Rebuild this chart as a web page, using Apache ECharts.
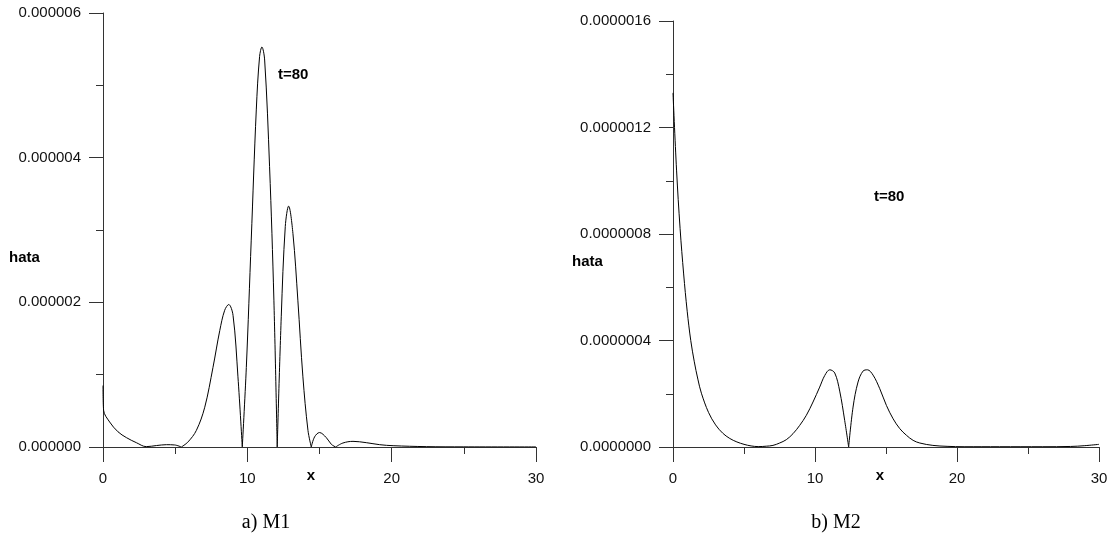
<!DOCTYPE html>
<html>
<head>
<meta charset="utf-8">
<script src="https://cdn.jsdelivr.net/npm/echarts@6/dist/echarts.min.js"></script>
<style>
  html, body { margin: 0; padding: 0; background: #fff; }
  #chart { width: 1114px; height: 554px; }
</style>
</head>
<body>
<div id="chart"></div>
<script>
// Error profile of method M1 at t=80
const m1X = [0, 0.04, 0.46, 1.04, 1.62, 2.31, 3.0, 3.7, 4.39, 4.97, 5.43, 5.89, 6.47, 7.05, 7.62, 8.09, 8.43, 8.71, 9.01, 9.35, 9.65,
             9.93, 10.27, 10.62, 10.85, 11.01, 11.2, 11.54, 11.84, 12.07, 12.35, 12.63, 12.86, 13.16, 13.5, 13.85, 14.2, 14.43,
             14.66, 15.0, 15.47, 15.82, 16.12, 16.62, 17.32, 18.24, 19.17, 20.1, 22.4, 25, 30];
const m1Y = [8.5e-7, 5.1e-7, 3.46e-7, 2.1e-7, 1.3e-7, 6e-8, 5e-9, 2e-8, 3.2e-8, 2.8e-8, 0, 7e-8, 2.3e-7, 5.5e-7, 1.1e-6, 1.61e-6, 1.89e-6, 1.97e-6, 1.82e-6, 9.7e-7, 0,
             1.1e-6, 2.86e-6, 4.66e-6, 5.4e-6, 5.53e-6, 5.35e-6, 3.88e-6, 2.03e-6, 0, 1.8e-6, 3.05e-6, 3.33e-6, 2.95e-6, 2.03e-6, 9.7e-7, 2.3e-7, 0,
             1.4e-7, 2.0e-7, 1.3e-7, 3.7e-8, 0, 5.5e-8, 7.8e-8, 6e-8, 3.2e-8, 1.8e-8, 5e-9, 2e-9, 1e-9];

// Error profile of method M2 at t=80
const m2X = [0, 0.25, 0.5, 0.75, 1.0, 1.25, 1.5, 1.75, 2.0, 2.5, 3.0, 3.5, 4.0, 4.5, 5.0, 5.5, 6.0, 6.57, 7.04, 7.51, 7.98, 8.45, 8.92,
             9.39, 9.86, 10.33, 10.69, 11.04, 11.39, 11.74, 12.09, 12.37, 12.68, 13.03, 13.38, 13.69, 14.09, 14.56, 15.03, 15.5,
             15.97, 16.44, 16.91, 17.38, 18.3, 19.3, 20.5, 23, 26, 28, 29, 30];
const m2Y = [1.33e-6, 1.04e-6, 8.2e-7, 6.5e-7, 5.1e-7, 4.0e-7, 3.2e-7, 2.55e-7, 2.02e-7, 1.3e-7, 8.3e-8, 5.2e-8, 3.2e-8, 1.9e-8, 1.0e-8, 4e-9, 1.5e-9,
             3e-9, 6e-9, 1.5e-8, 2.75e-8, 5e-8, 8.1e-8, 1.19e-7, 1.69e-7, 2.25e-7, 2.69e-7, 2.9e-7, 2.78e-7, 2.1e-7, 1.0e-7, 0, 1.5e-7, 2.44e-7,
             2.85e-7, 2.9e-7, 2.7e-7, 2.19e-7, 1.56e-7, 1.06e-7, 6.9e-8, 4.4e-8, 2.5e-8, 1.5e-8, 6e-9, 2.5e-9, 1e-9, 1e-9, 1e-9, 2e-9, 5e-9, 1e-8];

const xTicks = { min: 0, max: 30, interval: 10 };
const m1Ticks = { min: 0, max: 6e-6, interval: 2e-6, digits: 6 };
const m2Ticks = { min: 0, max: 1.6e-6, interval: 4e-7, digits: 7 };

const FONT = '"Liberation Sans", Arial, sans-serif';
const AXIS_COLOR = '#333';

// Split a curve at its interior zeros so each lobe is smoothed on its own
// and the zero crossings stay sharp cusps.
function lobes(xs, ys) {
  const parts = [];
  let cur = [];
  for (let i = 0; i < xs.length; i++) {
    cur.push([xs[i], ys[i]]);
    if (ys[i] === 0 && i > 0 && i < xs.length - 1) {
      parts.push(cur);
      cur = [[xs[i], ys[i]]];
    }
  }
  if (cur.length > 1) parts.push(cur);
  return parts;
}

function xAxisCfg(gridIndex) {
  return {
    type: 'value', gridIndex,
    min: xTicks.min, max: xTicks.max, interval: xTicks.interval,
    axisLine: { show: true, onZero: false, lineStyle: { color: AXIS_COLOR, width: 1 } },
    axisTick: { show: true, length: 15, lineStyle: { color: AXIS_COLOR } },
    minorTick: { show: true, splitNumber: 2, length: 7, lineStyle: { color: AXIS_COLOR } },
    splitLine: { show: false },
    axisLabel: { margin: 24, color: '#111', fontFamily: FONT, fontSize: 15 }
  };
}

function yAxisCfg(gridIndex, t) {
  return {
    type: 'value', gridIndex,
    min: t.min, max: t.max, interval: t.interval,
    axisLine: { show: true, lineStyle: { color: AXIS_COLOR, width: 1 } },
    axisTick: { show: true, length: 14, lineStyle: { color: AXIS_COLOR } },
    minorTick: { show: true, splitNumber: 2, length: 7, lineStyle: { color: AXIS_COLOR } },
    splitLine: { show: false },
    axisLabel: { margin: 22, color: '#111', fontFamily: FONT, fontSize: 15,
                 formatter: v => v.toFixed(t.digits) }
  };
}

function curveSeries(xs, ys, idx) {
  return lobes(xs, ys).map(part => ({
    type: 'line', xAxisIndex: idx, yAxisIndex: idx,
    data: part, smooth: 0.35, showSymbol: false, symbol: 'none',
    lineStyle: { color: '#000', width: 1 }, silent: true, animation: false
  }));
}

function label(text, x, y, opts) {
  return {
    type: 'text', x, y,
    style: Object.assign({ text, fill: '#000', font: 'bold 15px ' + FONT, textVerticalAlign: 'middle' }, opts || {})
  };
}

const chart = echarts.init(document.getElementById('chart'), null, { renderer: 'canvas' });
chart.setOption({
  backgroundColor: '#fff',
  animation: false,
  grid: [
    { left: 103, top: 13, width: 433, height: 434 },
    { left: 673, top: 21, width: 426, height: 426 }
  ],
  xAxis: [xAxisCfg(0), xAxisCfg(1)],
  yAxis: [yAxisCfg(0, m1Ticks), yAxisCfg(1, m2Ticks)],
  series: [].concat(curveSeries(m1X, m1Y, 0), curveSeries(m2X, m2Y, 1)),
  graphic: [
    label('t=80', 278, 75),
    label('hata', 9, 258),
    label('x', 311, 476, { textAlign: 'center' }),
    label('t=80', 874, 197),
    label('hata', 572, 262),
    label('x', 880, 476, { textAlign: 'center' }),
    label('a) M1', 266, 523, { textAlign: 'center', font: '20px "Liberation Serif", "DejaVu Serif", serif' }),
    label('b) M2', 836, 523, { textAlign: 'center', font: '20px "Liberation Serif", "DejaVu Serif", serif' })
  ]
});
</script>
</body>
</html>
